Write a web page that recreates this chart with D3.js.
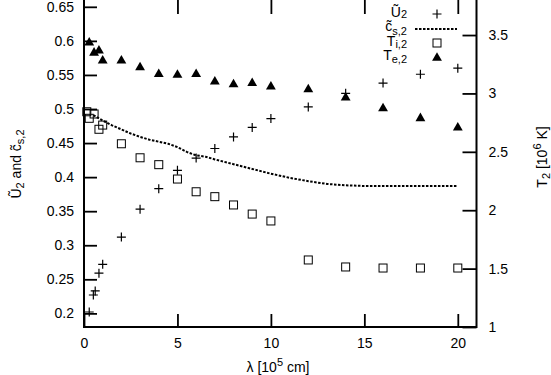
<!DOCTYPE html>
<html><head><meta charset="utf-8">
<script src="https://cdn.jsdelivr.net/npm/d3@7"></script>
<style>
body{margin:0;background:#fff}
svg{display:block}
text{font-family:"Liberation Sans",Arial,Helvetica,sans-serif;fill:#000}
</style>
</head><body>
<svg id="c" width="551" height="375"></svg>
<script>
// ---- data ----
const xTicks = [0, 5, 10, 15, 20];
const leftTicks = [0.2, 0.25, 0.3, 0.35, 0.4, 0.45, 0.5, 0.55, 0.6, 0.65];
const rightTicks = [1, 1.5, 2, 2.5, 3, 3.5];

// U~_2 (crosses, left axis)
const uX = [0.28, 0.5, 0.6, 0.8, 1, 2, 3, 4, 5, 6, 7, 8, 9, 10, 12, 14, 16, 18, 20];
const uV = [0.202, 0.227, 0.233, 0.259, 0.272, 0.312, 0.353, 0.383, 0.410, 0.428, 0.442, 0.459, 0.473, 0.486, 0.503, 0.523, 0.538, 0.551, 0.560];

// c~_s,2 (dotted line, left axis)
const cX = [0.5, 1, 1.5, 2, 2.5, 3, 3.5, 4, 4.5, 5, 5.5, 6, 6.5, 7, 8, 9, 10, 11, 12, 13, 14, 15, 16, 17, 18, 19, 20];
const cV = [0.491, 0.483, 0.476, 0.470, 0.464, 0.459, 0.455, 0.452, 0.449, 0.444, 0.437, 0.432, 0.430, 0.426, 0.419, 0.412, 0.405, 0.399, 0.394, 0.390, 0.388, 0.387, 0.387, 0.387, 0.387, 0.387, 0.387];

// T_i,2 (squares, right axis)
const iX = [0.15, 0.28, 0.54, 0.8, 1, 2, 3, 4, 5, 6, 7, 8, 9, 10, 12, 14, 16, 18, 20];
const iV = [2.843, 2.787, 2.824, 2.693, 2.729, 2.569, 2.449, 2.390, 2.267, 2.158, 2.116, 2.045, 1.967, 1.908, 1.574, 1.514, 1.505, 1.505, 1.505];

// T_e,2 (triangles, right axis)
const eX = [0.28, 0.54, 0.8, 1, 2, 3, 4, 5, 6, 7, 8, 9, 10, 12, 14, 16, 18, 20];
const eV = [3.434, 3.348, 3.366, 3.280, 3.280, 3.223, 3.164, 3.158, 3.164, 3.100, 3.078, 3.087, 3.057, 3.035, 2.963, 2.872, 2.787, 2.706];

// ---- layout ----
const L = 84, R = 476.5, T = 0, B = 327;
const svg = d3.select("#c");
const x = d3.scaleLinear().domain([0, 21]).range([L, L + 21 * (457.8 - L) / 20]);
const yL = d3.scaleLinear().domain([0.18, 0.66]).range([B, T]);
const yR = d3.scaleLinear().domain([1, 3.8]).range([B, T]);

function styleAxis(g) {
  g.select(".domain").remove();
  g.selectAll(".tick line").attr("stroke", "#000").attr("stroke-width", 1.8);
  g.selectAll(".tick text").attr("font-size", 14).attr("fill", "#000")
    .attr("font-family", '"Liberation Sans",Arial,sans-serif');
}

svg.append("g").attr("transform", `translate(${L},0)`)
  .call(d3.axisLeft(yL).tickValues(leftTicks).tickSize(-13).tickPadding(10).tickFormat(d3.format("")))
  .call(styleAxis);
svg.append("g").attr("transform", `translate(${R},0)`)
  .call(d3.axisRight(yR).tickValues(rightTicks).tickSize(-14).tickPadding(12).tickFormat(d3.format("")))
  .call(styleAxis);
svg.append("g").attr("transform", `translate(0,${B})`)
  .call(d3.axisBottom(x).tickValues(xTicks).tickSize(-13).tickPadding(11).tickFormat(d3.format("")))
  .call(styleAxis);
svg.append("g").attr("transform", `translate(0,${T})`)
  .call(d3.axisTop(x).tickValues(xTicks.slice(1)).tickSize(-14).tickFormat(""))
  .call(styleAxis);

// frame
svg.append("path").attr("d", `M${L},${T - 2}V${B}H${R}V${T - 2}`)
  .attr("fill", "none").attr("stroke", "#000").attr("stroke-width", 2);

// ---- marks ----
const crossPath = (cx, cy, s) => `M${cx - s},${cy}H${cx + s}M${cx},${cy - s}V${cy + s}`;

// dotted c line
const cData = cX.map((v, k) => [v, cV[k]]);
svg.append("path").datum(cData)
  .attr("d", d3.line().x(d => x(d[0])).y(d => yL(d[1])))
  .attr("fill", "none").attr("stroke", "#000").attr("stroke-width", 2)
  .attr("stroke-dasharray", "2.5,1.5");

// squares
svg.append("g").selectAll("rect").data(iX.map((v, k) => [v, iV[k]])).join("rect")
  .attr("x", d => x(d[0]) - 4).attr("y", d => yR(d[1]) - 4)
  .attr("width", 8).attr("height", 8)
  .attr("fill", "none").attr("stroke", "#000").attr("stroke-width", 1);

// triangles
const tri = d3.symbol(d3.symbolTriangle, 42);
svg.append("g").selectAll("path").data(eX.map((v, k) => [v, eV[k]])).join("path")
  .attr("d", tri).attr("transform", d => `translate(${x(d[0])},${yR(d[1])})`)
  .attr("fill", "#000");

// crosses
svg.append("g").selectAll("path").data(uX.map((v, k) => [v, uV[k]])).join("path")
  .attr("d", d => crossPath(x(d[0]), yL(d[1]), 4.5))
  .attr("stroke", "#000").attr("stroke-width", 1.2).attr("fill", "none");

// ---- legend ----
const lg = svg.append("g");
function legText(yBase, main, sub, subDy) {
  const t = lg.append("text").attr("x", 407).attr("y", yBase).attr("text-anchor", "end").attr("font-size", 14);
  t.append("tspan").text(main);
  t.append("tspan").attr("font-size", 11).attr("dy", subDy).text(sub);
}
legText(17, "Ũ", "2", 1);
legText(31, "c̃", "s,2", 4);
legText(46, "T", "i,2", 2);
legText(60, "T", "e,2", 3);
lg.append("path").attr("d", crossPath(437, 14, 4.5)).attr("stroke", "#000").attr("stroke-width", 1.2);
lg.append("line").attr("x1", 415).attr("x2", 457).attr("y1", 29).attr("y2", 29)
  .attr("stroke", "#000").attr("stroke-width", 2).attr("stroke-dasharray", "2.5,1.5");
lg.append("rect").attr("x", 433).attr("y", 39).attr("width", 8).attr("height", 8)
  .attr("fill", "none").attr("stroke", "#000").attr("stroke-width", 1);
lg.append("path").attr("d", tri).attr("transform", "translate(437,58)").attr("fill", "#000");

// ---- axis titles ----
const yl = svg.append("text").attr("transform", "translate(21,164) rotate(-90)")
  .attr("text-anchor", "middle").attr("font-size", 14);
yl.append("tspan").text("Ũ");
yl.append("tspan").attr("font-size", 11).attr("dy", 3).text("2");
yl.append("tspan").attr("dy", -3).text(" and c̃");
yl.append("tspan").attr("font-size", 11).attr("dy", 3).text("s,2");

const yr = svg.append("text").attr("transform", "translate(547,157) rotate(-90)")
  .attr("text-anchor", "middle").attr("font-size", 14);
yr.append("tspan").text("T");
yr.append("tspan").attr("font-size", 11).attr("dy", 3).text("2");
yr.append("tspan").attr("dy", -3).text(" [10");
yr.append("tspan").attr("font-size", 11).attr("dy", -6).text("6");
yr.append("tspan").attr("dy", 6).text(" K]");

const xl = svg.append("text").attr("x", 278).attr("y", 372)
  .attr("text-anchor", "middle").attr("font-size", 14);
xl.append("tspan").text("λ [10");
xl.append("tspan").attr("font-size", 11).attr("dy", -6).text("5");
xl.append("tspan").attr("dy", 6).text(" cm]");
</script>
</body></html>
